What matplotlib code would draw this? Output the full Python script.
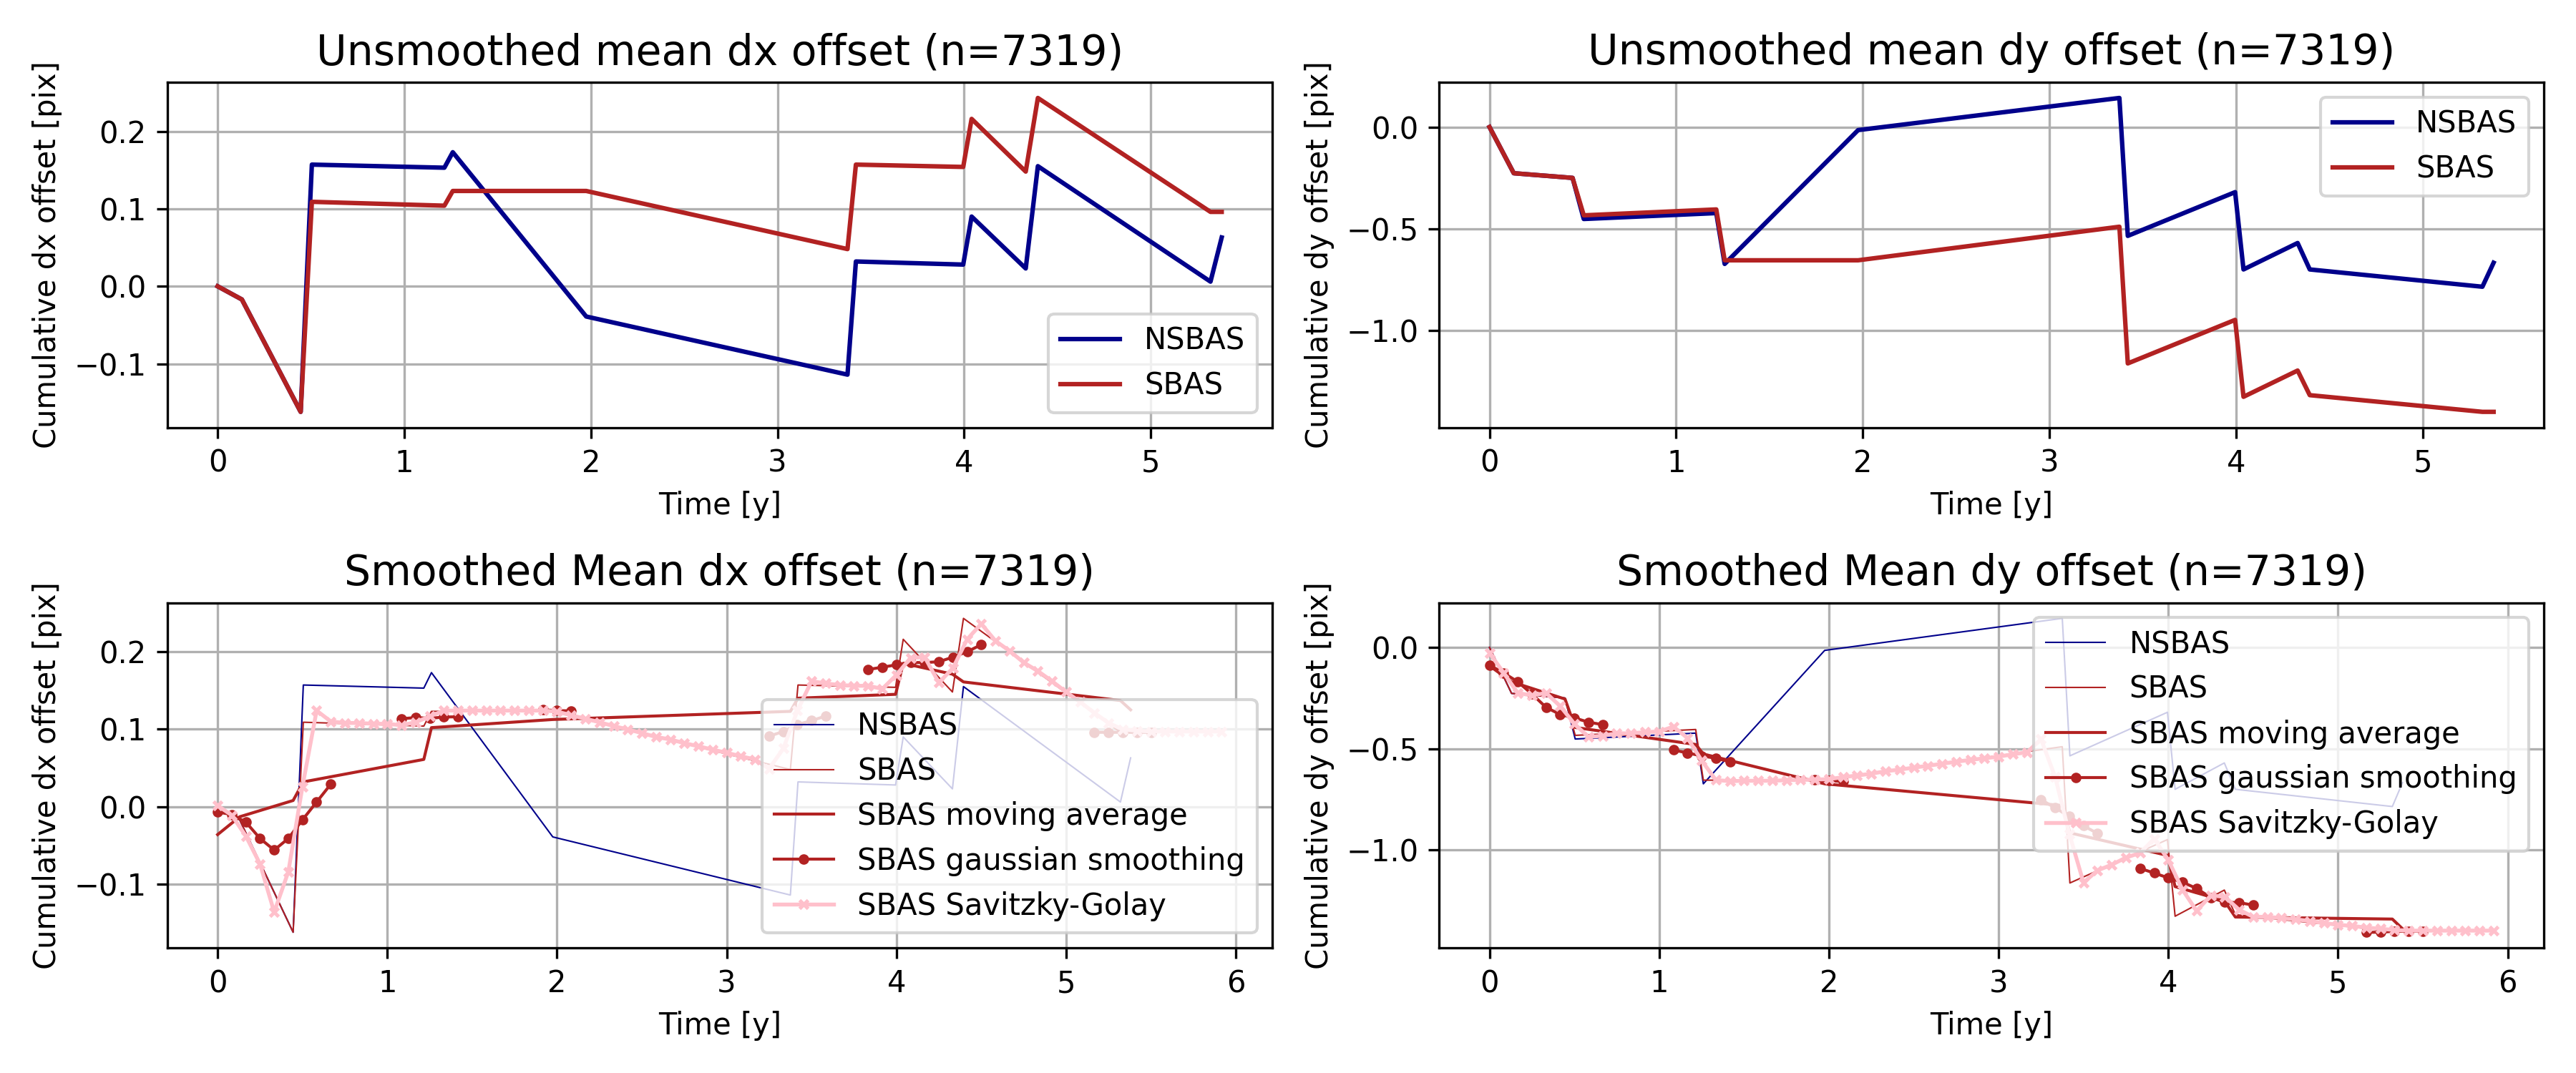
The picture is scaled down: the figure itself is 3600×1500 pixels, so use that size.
import numpy as np
import matplotlib
matplotlib.use("Agg")
import matplotlib.pyplot as plt

# acquisition times [y] of the cumulative series
t = [0.0, 0.13, 0.445, 0.505, 1.215, 1.26, 1.975, 3.375, 3.42, 3.995,
     4.04, 4.33, 4.395, 5.32, 5.38]

# unsmoothed mean offsets
dx_nsbas = [0.0, -0.017, -0.162, 0.157, 0.153, 0.173, -0.039, -0.114, 0.032,
            0.028, 0.090, 0.023, 0.155, 0.006, 0.063]
dx_sbas = [0.0, -0.017, -0.162, 0.109, 0.104, 0.123, 0.123, 0.048, 0.157,
           0.154, 0.216, 0.148, 0.243, 0.096, 0.096]
dy_nsbas = [0.0, -0.227, -0.25, -0.452, -0.423, -0.673, -0.015, 0.143, -0.535,
            -0.320, -0.70, -0.570, -0.70, -0.785, -0.667]
dy_sbas = [0.0, -0.227, -0.25, -0.434, -0.405, -0.655, -0.655, -0.49, -1.162,
           -0.948, -1.326, -1.197, -1.318, -1.40, -1.40]

# moving average (same times)
dx_ma = [-0.036, -0.013, 0.008, 0.032, 0.061, 0.102, 0.1125, 0.123, 0.140,
         0.145, 0.185, 0.171, 0.161, 0.137, 0.125]
dy_ma = [-0.091, -0.17, -0.255, -0.395, -0.479, -0.526, -0.673, -0.78, -0.915,
         -1.026, -1.18, -1.25, -1.33, -1.34, -1.388]

# gaussian smoothing on monthly grid (nan = gap)
nan = np.nan
gauss_month = [0, 1, 2, 3, 4, 5, 6, 7, 8, nan,
               13, 14, 15, 16, 17, nan,
               23, 24, 25, nan,
               39, 40, 41, 42, 43, nan,
               46, 47, 48, 49, 50, 51, 52, 53, 54, nan,
               62, 63, 64, 65, 66]
dx_gauss = [-0.007, -0.010, -0.020, -0.041, -0.056, -0.041, -0.017, 0.006, 0.029, nan,
            0.1135, 0.115, 0.114, 0.1157, 0.116, nan,
            0.125, 0.124, 0.1236, nan,
            0.091, 0.097, 0.106, 0.111, 0.117, nan,
            0.177, 0.180, 0.183, 0.186, 0.186, 0.187, 0.193, 0.200, 0.209, nan,
            0.096, 0.096, 0.096, 0.096, 0.096]
dy_gauss = [-0.088, -0.126, -0.17, -0.23, -0.296, -0.331, -0.348, -0.369, -0.381, nan,
            -0.506, -0.521, -0.535, -0.547, -0.564, nan,
            -0.654, -0.658, -0.661, nan,
            -0.751, -0.792, -0.833, -0.880, -0.918, nan,
            -1.09, -1.113, -1.137, -1.158, -1.189, -1.234, -1.257, -1.259, -1.271, nan,
            -1.405, -1.405, -1.40, -1.40, -1.40]

# Savitzky-Golay on monthly grid
sg_month = [0, 1, 2, 3, 4, 5, 6, 7, 8, 9, 10, 11, 12, 13, 14, 15, 16, 17,
            18, 19, 20, 21, 22, 23, 24, 25, 26, 27, 28, 29, 30, 31, 32, 33, 34, 35,
            36, 37, 38, 39, 40, 41, 42, 43, 44, 45, 46, 47, 48, 49, 50, 51, 52, 53,
            54, 55, 56, 57, 58, 59, 60, 61, 62, 63, 64, 65, 66, 67, 68, 69, 70, 71]
dx_sg = [0.0015, -0.011, -0.038, -0.074, -0.136, -0.084, 0.026, 0.124, 0.110,
         0.108, 0.108, 0.107, 0.107, 0.105, 0.109, 0.1165, 0.124, 0.124,
         0.124, 0.124, 0.124, 0.124, 0.124, 0.124, 0.1227, 0.118, 0.1135, 0.109,
         0.104, 0.0997, 0.095, 0.090, 0.0868, 0.082, 0.078, 0.0736,
         0.0696, 0.065, 0.061, 0.049, 0.075, 0.124, 0.162, 0.159, 0.157, 0.156,
         0.156, 0.152, 0.170, 0.192, 0.193, 0.160, 0.179, 0.216,
         0.236, 0.214, 0.201, 0.186, 0.175, 0.162, 0.148, 0.135, 0.121, 0.108,
         0.0997, 0.098, 0.097, 0.097, 0.097, 0.097, 0.097, 0.097]
dy_sg = [-0.027, -0.126, -0.225, -0.237, -0.225, -0.29, -0.377, -0.442, -0.436,
         -0.424, -0.424, -0.418, -0.415, -0.391, -0.447, -0.558, -0.654, -0.660,
         -0.658, -0.658, -0.658, -0.655, -0.654, -0.652, -0.650, -0.640, -0.632,
         -0.623, -0.611, -0.603, -0.593, -0.584, -0.574, -0.564, -0.555, -0.547,
         -0.539, -0.527, -0.518, -0.453, -0.64, -0.92, -1.16, -1.10, -1.072,
         -1.037, -1.014, -0.944, -1.049, -1.195, -1.30, -1.224, -1.23, -1.294,
         -1.329, -1.329, -1.335, -1.341, -1.350, -1.36, -1.368, -1.374, -1.382,
         -1.388, -1.394, -1.397, -1.397, -1.397, -1.397, -1.397, -1.397, -1.397]

n = 7319
t_gauss = np.array(gauss_month) / 12.0
t_sg = np.array(sg_month) / 12.0

fig, axs = plt.subplots(2, 2, figsize=(12, 5), dpi=300)

# unsmoothed
for ax, comp, ns, sb, loc in [(axs[0, 0], "dx", dx_nsbas, dx_sbas, "lower right"),
                              (axs[0, 1], "dy", dy_nsbas, dy_sbas, "upper right")]:
    ax.plot(t, ns, color="darkblue", label="NSBAS")
    ax.plot(t, sb, color="firebrick", label="SBAS")
    ax.set_title(f"Unsmoothed mean {comp} offset (n={n})", fontsize=14)
    ax.set_xlabel("Time [y]")
    ax.set_ylabel(f"Cumulative {comp} offset [pix]")
    ax.grid(True)
    ax.legend(loc=loc)

# smoothed
for ax, comp, ns, sb, ma, ga, sg, loc in [
        (axs[1, 0], "dx", dx_nsbas, dx_sbas, dx_ma, dx_gauss, dx_sg, "lower right"),
        (axs[1, 1], "dy", dy_nsbas, dy_sbas, dy_ma, dy_gauss, dy_sg, "upper right")]:
    ax.plot(t, ns, color="darkblue", lw=0.5, label="NSBAS")
    ax.plot(t, sb, color="firebrick", lw=0.5, label="SBAS")
    ax.plot(t, ma, color="firebrick", lw=1, label="SBAS moving average")
    ax.plot(t_gauss, ga, ".-", color="firebrick", lw=1, ms=5,
            label="SBAS gaussian smoothing")
    ax.plot(t_sg, sg, "x-", color="pink", lw=1.3, ms=3, mew=1.2,
            label="SBAS Savitzky-Golay")
    ax.set_title(f"Smoothed Mean {comp} offset (n={n})", fontsize=14)
    ax.set_xlabel("Time [y]")
    ax.set_ylabel(f"Cumulative {comp} offset [pix]")
    ax.grid(True)
    ax.legend(loc=loc)

plt.tight_layout()
plt.savefig("out.png")
